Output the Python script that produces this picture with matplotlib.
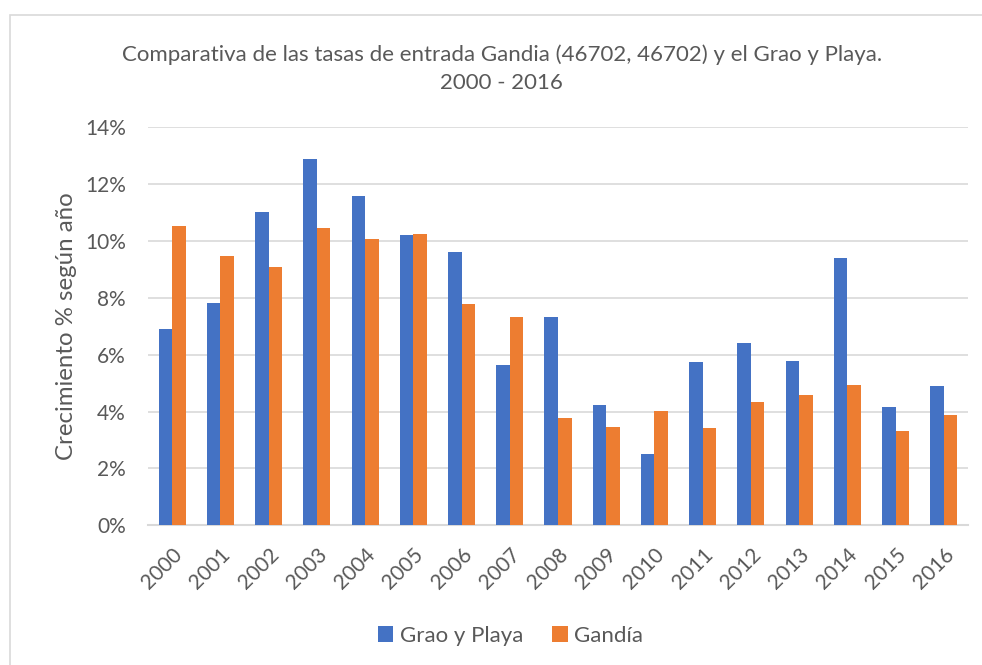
import numpy as np
import matplotlib
matplotlib.use("Agg")
import matplotlib.pyplot as plt
from matplotlib.patches import Rectangle
from matplotlib.ticker import FuncFormatter

plt.rcParams['font.family'] = ['Lato', 'DejaVu Sans']

years = [str(y) for y in range(2000, 2017)]
grao = [6.92, 7.83, 11.02, 12.87, 11.58, 10.20, 9.61, 5.63, 7.32,
        4.24, 2.51, 5.74, 6.42, 5.77, 9.40, 4.15, 4.90]
gandia = [10.53, 9.47, 9.09, 10.45, 10.07, 10.23, 7.78, 7.34, 3.77,
          3.45, 4.01, 3.42, 4.34, 4.60, 4.92, 3.33, 3.88]

blue = '#4472C4'
orange = '#ED7D31'
grey_txt = '#595959'
grid_c = '#D9D9D9'

fig = plt.figure(figsize=(9.82, 6.65), dpi=100)
# chart frame (only top and left edges are inside the picture)
fig.patches.append(Rectangle((10 / 982, -0.1), 1.2, 1.1 - 15 / 665,
                             transform=fig.transFigure, fill=False,
                             edgecolor=grid_c, linewidth=1.2))

ax = fig.add_axes([148 / 982, 1 - 525.3 / 665, 820 / 982, 398 / 665])
x = np.arange(len(years))
w = 0.28
ax.bar(x - w / 2, grao, w, color=blue, label='Grao y Playa', zorder=3)
ax.bar(x + w / 2, gandia, w, color=orange, label='Gandía', zorder=3)

ax.set_xlim(-0.5, len(years) - 0.5)
ax.set_ylim(0, 14)
ax.set_yticks(np.arange(0, 15, 2))
ax.yaxis.set_major_formatter(FuncFormatter(lambda v, p: f'{v:.0f}%'))
ax.set_xticks(x)
ax.set_xticklabels(years, rotation=45, ha='right', rotation_mode='anchor')
ax.grid(axis='y', color=grid_c, linewidth=1.2, zorder=0)
for s in ['top', 'right', 'left']:
    ax.spines[s].set_visible(False)
ax.spines['bottom'].set_color(grid_c)
ax.spines['bottom'].set_linewidth(1.5)
ax.tick_params(length=0, labelsize=15, colors=grey_txt)
ax.tick_params(axis='y', pad=16)
ax.tick_params(axis='x', pad=14)

ax.set_ylabel('Crecimiento % según año', fontsize=17.3, color=grey_txt,
              labelpad=6)

fig.text(0.511, 1 - 55 / 665, 'Comparativa de las tasas de entrada Gandia (46702, 46702) y el Grao y Playa.',
         ha='center', va='center', fontsize=16, color=grey_txt)
fig.text(0.511, 1 - 83 / 665, '2000 - 2016',
         ha='center', va='center', fontsize=16, color=grey_txt)

fig.legend(loc='center', bbox_to_anchor=(0.52, 1 - 636 / 665), ncol=2,
           frameon=False, fontsize=16, labelcolor=grey_txt,
           handlelength=0.7, handleheight=0.7, handletextpad=0.3,
           columnspacing=1.3)

fig.savefig('out.png', dpi=100)
